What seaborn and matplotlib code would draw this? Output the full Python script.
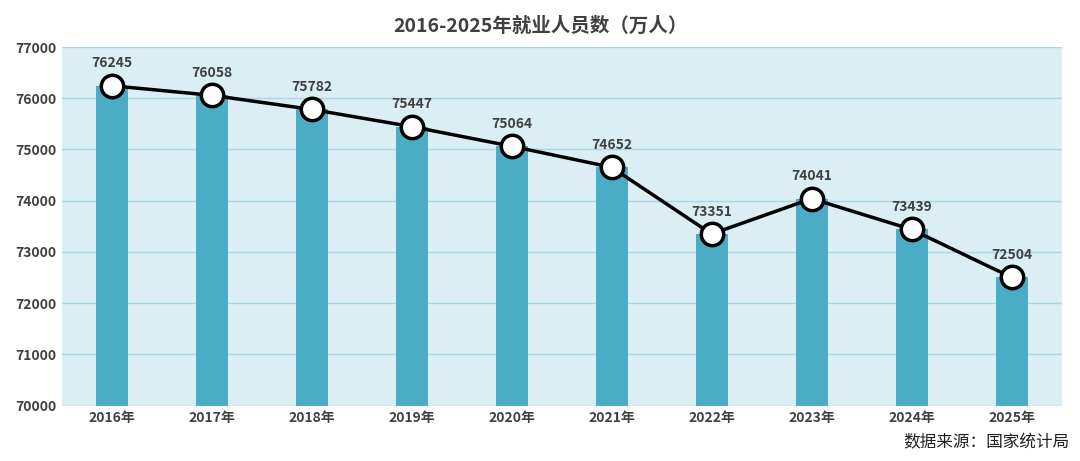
import matplotlib.pyplot as plt
import seaborn as sns
import pandas as pd

years = ["2016年", "2017年", "2018年", "2019年", "2020年", "2021年", "2022年", "2023年", "2024年", "2025年"]
employed = [76245, 76058, 75782, 75447, 75064, 74652, 73351, 74041, 73439, 72504]

df = pd.DataFrame({"year": years, "employed": employed})

sns.set_style("white")
plt.rcParams['font.family'] = ['Noto Sans CJK SC', 'DejaVu Sans']

fig = plt.figure(figsize=(10.8, 4.61), dpi=100)
ax = fig.add_axes([0.057, 0.12, 0.926, 0.778])
ax.set_facecolor("#DAEEF3")

sns.barplot(data=df, x="year", y="employed", color="#4BACC6", width=0.32, saturation=1,
            edgecolor="none", linewidth=0, ax=ax, zorder=2)
ax.plot(range(len(years)), employed, color="black", lw=2.5, zorder=3)
ax.scatter(range(len(years)), employed, s=260, facecolor="white", edgecolor="black", linewidth=2.5, zorder=4)
for i, v in enumerate(employed):
    ax.text(i, v + 300, str(v), ha="center", va="bottom", fontsize=10, fontweight="bold", color="#404040", zorder=5)

ax.set_ylim(70000, 77000)
ax.set_yticks(range(70000, 77001, 1000))
ax.yaxis.grid(True, color="#A8D8E4", lw=1, zorder=0)
ax.set_axisbelow(True)
ax.set_xlim(-0.5, len(years) - 0.5)
ax.set_xlabel("")
ax.set_ylabel("")
ax.tick_params(axis="both", length=0, labelsize=10, labelcolor="#404040")
for lab in ax.get_xticklabels() + ax.get_yticklabels():
    lab.set_fontweight("bold")
for s in ax.spines.values():
    s.set_visible(False)

fig.suptitle("2016-2025年就业人员数（万人）", y=0.965, fontsize=14, fontweight="bold", color="#404040")
fig.text(0.99, 0.02, "数据来源：国家统计局", ha="right", va="bottom", fontsize=12, color="#222222")

fig.savefig("out.png", dpi=100)
